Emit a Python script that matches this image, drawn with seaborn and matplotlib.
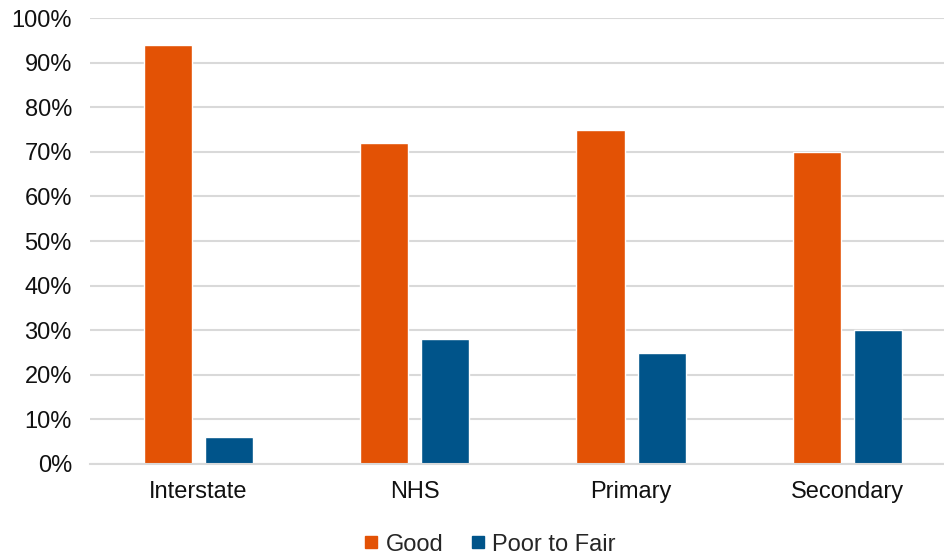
import pandas as pd
import matplotlib
matplotlib.use("Agg")
import matplotlib.pyplot as plt
import seaborn as sns
from matplotlib.ticker import PercentFormatter
from matplotlib.lines import Line2D

categories = ["Interstate", "NHS", "Primary", "Secondary"]
good = [94, 72, 75, 70]
poor_to_fair = [6, 28, 25, 30]
series_names = ["Good", "Poor to Fair"]
colors = ["#E35205", "#00548A"]

df = pd.DataFrame({
    "Category": categories * 2,
    "Condition": [series_names[0]] * 4 + [series_names[1]] * 4,
    "Value": good + poor_to_fair,
})

sns.set_style("white")
plt.rcParams["font.family"] = ["Liberation Sans", "DejaVu Sans"]

fig = plt.figure(figsize=(9.44, 5.6), dpi=100)
ax = fig.add_axes([90 / 944, (560 - 464) / 560, 1 - 90 / 944, (464 - 18) / 560])

sns.barplot(data=df, x="Category", y="Value", hue="Condition", order=categories,
            hue_order=series_names, palette=colors, width=0.565, gap=0.21,
            saturation=1, legend=False, ax=ax)

ax.set_ylim(0, 100)
ax.set_xlim(-0.5, 3.445)
ax.set_yticks(range(0, 101, 10))
ax.yaxis.set_major_formatter(PercentFormatter(decimals=0))
ax.yaxis.grid(True, color="#d9d9d9", linewidth=1.5)
ax.set_axisbelow(True)
for s in ["top", "right", "left"]:
    ax.spines[s].set_visible(False)
ax.spines["bottom"].set_color("#d9d9d9")
ax.spines["bottom"].set_linewidth(1.5)
ax.tick_params(axis="both", length=0, labelsize=17, colors="#111111")
ax.tick_params(axis="x", pad=12)
ax.tick_params(axis="y", pad=13)
ax.set_xlabel("")
ax.set_ylabel("")

handles = [Line2D([], [], marker="s", linestyle="", markersize=9, color=c) for c in colors]
fig.legend(handles, series_names, loc="lower center", bbox_to_anchor=(0.517, -0.03), ncol=2,
           frameon=False, fontsize=17, handletextpad=0.15, columnspacing=1.0,
           handlelength=0.9)

fig.savefig("out.png", dpi=100)
